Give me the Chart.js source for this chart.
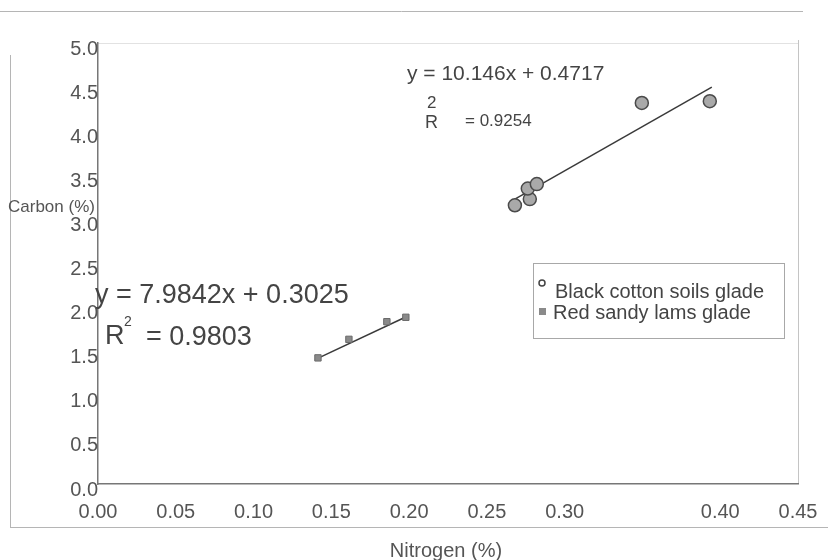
<!DOCTYPE html>
<html>
<head>
<meta charset="utf-8">
<script src="https://cdn.jsdelivr.net/npm/chart.js@4/dist/chart.umd.min.js"></script>
<style>
  html, body { margin: 0; padding: 0; background: #fff; }
  #wrap { width: 828px; height: 560px; position: relative; }
</style>
</head>
<body>
<div id="wrap"><canvas id="chart"></canvas></div>
<script>
/* global Chart */

// series
var seriesNames = ['Black cotton soils glade', 'Red sandy lams glade'];
var blackN = [0.268, 0.2776, 0.2763, 0.2821, 0.3496, 0.3933];
var blackC = [3.16, 3.23, 3.35, 3.40, 4.32, 4.34];
var redN = [0.1414, 0.1613, 0.1857, 0.1979];
var redC = [1.43, 1.64, 1.84, 1.89];

// trendline end points
var blackTrendN = [0.268, 0.3946];
var blackTrendC = [3.23, 4.50];
var redTrendN = [0.1395, 0.1992];
var redTrendC = [1.41, 1.905];

// the 0.35 label is missing in the original
var xTicks = [0, 0.05, 0.10, 0.15, 0.20, 0.25, 0.30, 0.40, 0.45];
var yTicks = [0, 0.5, 1.0, 1.5, 2.0, 2.5, 3.0, 3.5, 4.0, 4.5, 5.0];

var eqBlack = ['y = 10.146x + 0.4717', 'R', '2', '= 0.9254'];
var eqRed = ['y = 7.9842x + 0.3025', 'R', '2', '= 0.9803'];

var FONT = "'Liberation Sans', Arial, Helvetica, sans-serif";

function pairs(xs, ys) {
  return xs.map(function (x, i) { return { x: x, y: ys[i] }; });
}

function txt(ctx, s, x, y, size, color, align) {
  ctx.font = size + 'px ' + FONT;
  ctx.fillStyle = color || '#444';
  ctx.textAlign = align || 'left';
  ctx.textBaseline = 'middle';
  ctx.fillText(s, x, y);
}

var extras = {
  id: 'extras',
  beforeDraw: function (chart) {
    var ctx = chart.ctx;
    var a = chart.chartArea;
    ctx.save();
    // outer frame of the scanned figure
    ctx.strokeStyle = '#b5b5b5';
    ctx.lineWidth = 1;
    ctx.beginPath();
    ctx.moveTo(0, 11.5); ctx.lineTo(803, 11.5);
    ctx.moveTo(10.5, 55); ctx.lineTo(10.5, 527);
    ctx.moveTo(10, 527.5); ctx.lineTo(828, 527.5);
    ctx.stroke();
    // faint top and right edges of the plot area
    ctx.strokeStyle = '#e2e2e2';
    ctx.beginPath();
    ctx.moveTo(a.left, a.top + 0.5); ctx.lineTo(a.right, a.top + 0.5);
    ctx.stroke();
    ctx.strokeStyle = '#c4c4c4';
    ctx.beginPath();
    ctx.moveTo(a.right + 0.5, a.top - 3); ctx.lineTo(a.right + 0.5, a.bottom);
    ctx.stroke();
    ctx.restore();
  },
  afterDraw: function (chart) {
    var ctx = chart.ctx;
    ctx.save();
    // axis titles
    txt(ctx, 'Carbon (%)', 8, 207, 17, '#555');
    txt(ctx, 'Nitrogen (%)', 446, 551, 20, '#555', 'center');

    // equations
    txt(ctx, eqBlack[0], 407, 74, 21, '#444');
    txt(ctx, eqBlack[1], 425, 123, 18, '#444');
    txt(ctx, eqBlack[2], 427, 103, 17, '#444');
    txt(ctx, eqBlack[3], 465, 121, 17, '#444');

    txt(ctx, eqRed[0], 95, 296, 27, '#444');
    txt(ctx, eqRed[1], 105, 337, 27, '#444');
    txt(ctx, eqRed[2], 124, 322, 14, '#444');
    txt(ctx, eqRed[3], 146, 338, 27, '#444');

    // legend box
    ctx.strokeStyle = '#a8a8a8';
    ctx.lineWidth = 1;
    ctx.strokeRect(533.5, 263.5, 251, 75);
    ctx.fillStyle = '#fff';
    ctx.strokeStyle = '#444';
    ctx.lineWidth = 1.5;
    ctx.beginPath();
    ctx.arc(542, 283, 3, 0, Math.PI * 2);
    ctx.fill(); ctx.stroke();
    ctx.fillStyle = '#8a8a8a';
    ctx.fillRect(539, 308, 7, 7);
    txt(ctx, seriesNames[0], 555, 292, 20, '#444');
    txt(ctx, seriesNames[1], 553, 313, 20, '#444');
    ctx.restore();
  }
};

var tickFont = { family: FONT, size: 20 };

new Chart(document.getElementById('chart'), {
  type: 'scatter',
  data: {
    datasets: [{
      label: seriesNames[0],
      data: pairs(blackN, blackC),
      pointStyle: 'circle',
      pointRadius: 6.5,
      backgroundColor: '#a9a9a9',
      borderColor: '#4a4a4a',
      borderWidth: 1.5,
      order: 0
    }, {
      label: seriesNames[1],
      data: pairs(redN, redC),
      pointStyle: 'rect',
      pointRadius: 4.5,
      backgroundColor: '#8a8a8a',
      borderColor: '#6a6a6a',
      borderWidth: 1,
      order: 0
    }, {
      label: 'trend 1',
      data: pairs(blackTrendN, blackTrendC),
      showLine: true,
      pointRadius: 0,
      borderColor: '#3a3a3a',
      borderWidth: 1.5,
      order: 1
    }, {
      label: 'trend 2',
      data: pairs(redTrendN, redTrendC),
      showLine: true,
      pointRadius: 0,
      borderColor: '#3a3a3a',
      borderWidth: 1.5,
      order: 1
    }]
  },
  options: {
    responsive: true,
    maintainAspectRatio: false,
    animation: false,
    layout: { padding: { top: 43, right: 30, bottom: 0, left: 0 } },
    plugins: { legend: { display: false }, tooltip: { enabled: false } },
    scales: {
      x: {
        type: 'linear',
        min: 0,
        max: 0.45,
        grid: { display: false, drawTicks: false },
        border: { color: '#777', width: 1.5 },
        ticks: {
          font: tickFont,
          color: '#555',
          padding: 16,
          autoSkip: false,
          maxRotation: 0,
          callback: function (v) { return v.toFixed(2); }
        },
        afterBuildTicks: function (s) {
          s.ticks = xTicks.map(function (v) { return { value: v }; });
        },
        afterFit: function (s) {
          s.height = 76;
          s.paddingLeft = 0;
          s.paddingRight = 0;
        }
      },
      y: {
        type: 'linear',
        min: 0,
        max: 5,
        grid: { display: false, drawTicks: false },
        border: { color: '#777', width: 1.5 },
        ticks: {
          font: tickFont,
          color: '#555',
          padding: 0,
          labelOffset: 6,
          callback: function (v) { return v.toFixed(1); }
        },
        afterBuildTicks: function (s) {
          s.ticks = yTicks.map(function (v) { return { value: v }; });
        },
        afterFit: function (s) {
          s.width = 98;
          s.paddingTop = 0;
          s.paddingBottom = 0;
        }
      }
    }
  },
  plugins: [extras]
});
</script>
</body>
</html>
